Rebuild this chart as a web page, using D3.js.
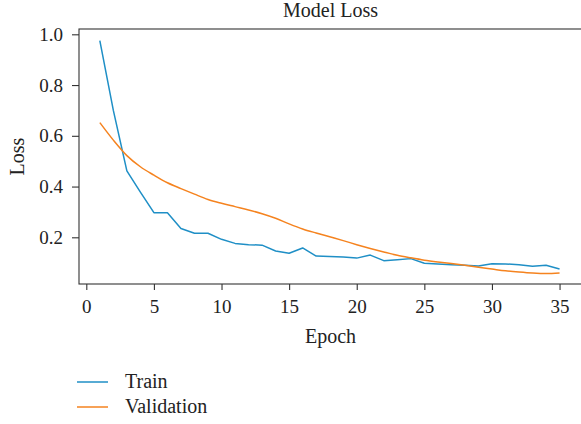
<!DOCTYPE html>
<html>
<head>
<meta charset="utf-8">
<script src="https://cdn.jsdelivr.net/npm/d3@7"></script>
<style>
  html, body { margin: 0; padding: 0; background: #fff; }
  svg { display: block; }
  text { font-family: "Liberation Serif", "Times New Roman", serif; fill: #222; }
</style>
</head>
<body>
<svg id="chart" width="581" height="424"></svg>
<script>
const epochs = d3.range(1, 36);
const trainLoss = [0.975, 0.700, 0.462, 0.378, 0.297, 0.297, 0.235, 0.216, 0.216, 0.192,
                   0.176, 0.171, 0.169, 0.146, 0.137, 0.158, 0.126, 0.124, 0.122, 0.118,
                   0.130, 0.108, 0.112, 0.116, 0.098, 0.095, 0.092, 0.090, 0.087, 0.096,
                   0.095, 0.092, 0.086, 0.090, 0.075];
const valLoss = [0.652, 0.583, 0.522, 0.478, 0.445, 0.415, 0.392, 0.370, 0.349, 0.334,
                 0.321, 0.308, 0.293, 0.275, 0.253, 0.233, 0.217, 0.202, 0.187, 0.171,
                 0.156, 0.142, 0.129, 0.119, 0.110, 0.103, 0.097, 0.090, 0.082, 0.075,
                 0.068, 0.063, 0.059, 0.057, 0.059];
const xTicks = [0, 5, 10, 15, 20, 25, 30, 35];
const yTicks = [0.2, 0.4, 0.6, 0.8, 1.0];
const seriesNames = ["Train", "Validation"];
const seriesColors = ["#1f8fc6", "#f5831f"];

const svg = d3.select("#chart");
const mLeft = 79, mTop = 29, mRight = 582, mBottom = 284;

const x = d3.scaleLinear().domain([-0.54, 36.66]).range([mLeft, mRight]);
const y = d3.scaleLinear().domain([0.016, 1.0209]).range([mBottom, mTop]);

// frame
svg.append("rect")
  .attr("x", mLeft).attr("y", mTop)
  .attr("width", mRight - mLeft).attr("height", mBottom - mTop)
  .attr("fill", "none").attr("stroke", "#333").attr("stroke-width", 1.1);

// x axis
const xAxis = svg.append("g")
  .attr("transform", `translate(0,${mBottom})`)
  .call(d3.axisBottom(x).tickValues(xTicks).tickFormat(d3.format("d")).tickSize(6).tickPadding(10));
xAxis.select(".domain").remove();
xAxis.selectAll("line").attr("stroke", "#333").attr("stroke-width", 1.1);
xAxis.selectAll("text").attr("font-size", 19).attr("fill", "#222")
  .style("font-family", '"Liberation Serif", serif');

// y axis
const yAxis = svg.append("g")
  .attr("transform", `translate(${mLeft},0)`)
  .call(d3.axisLeft(y).tickValues(yTicks).tickFormat(d3.format(".1f")).tickSize(7).tickPadding(9));
yAxis.select(".domain").remove();
yAxis.selectAll("line").attr("stroke", "#333").attr("stroke-width", 1.1);
yAxis.selectAll("text").attr("font-size", 19).attr("fill", "#222")
  .style("font-family", '"Liberation Serif", serif');

// lines
const trainLine = d3.line().x((d, i) => x(epochs[i])).y(d => y(d)).curve(d3.curveLinear);
const valLine = d3.line().x((d, i) => x(epochs[i])).y(d => y(d)).curve(d3.curveMonotoneX);
[[trainLoss, trainLine], [valLoss, valLine]].forEach(([s, gen], k) => {
  svg.append("path")
    .datum(s)
    .attr("d", gen)
    .attr("fill", "none")
    .attr("stroke", seriesColors[k])
    .attr("stroke-width", 1.5)
    .attr("stroke-linejoin", "round");
});

// title and labels
svg.append("text").attr("x", 330.5).attr("y", 17).attr("text-anchor", "middle")
  .attr("font-size", 20).text("Model Loss");
svg.append("text").attr("x", 330.5).attr("y", 343).attr("text-anchor", "middle")
  .attr("font-size", 20).text("Epoch");
svg.append("text").attr("transform", `translate(23.5,${(mTop + mBottom) / 2}) rotate(-90)`)
  .attr("text-anchor", "middle").attr("font-size", 20).text("Loss");

// legend
seriesNames.forEach((name, k) => {
  const ly = 382 + k * 25;
  svg.append("line").attr("x1", 77).attr("x2", 108).attr("y1", ly).attr("y2", ly)
    .attr("stroke", seriesColors[k]).attr("stroke-width", 1.5);
  svg.append("text").attr("x", 125).attr("y", ly + 5.5).attr("font-size", 20).text(name);
});
</script>
</body>
</html>
